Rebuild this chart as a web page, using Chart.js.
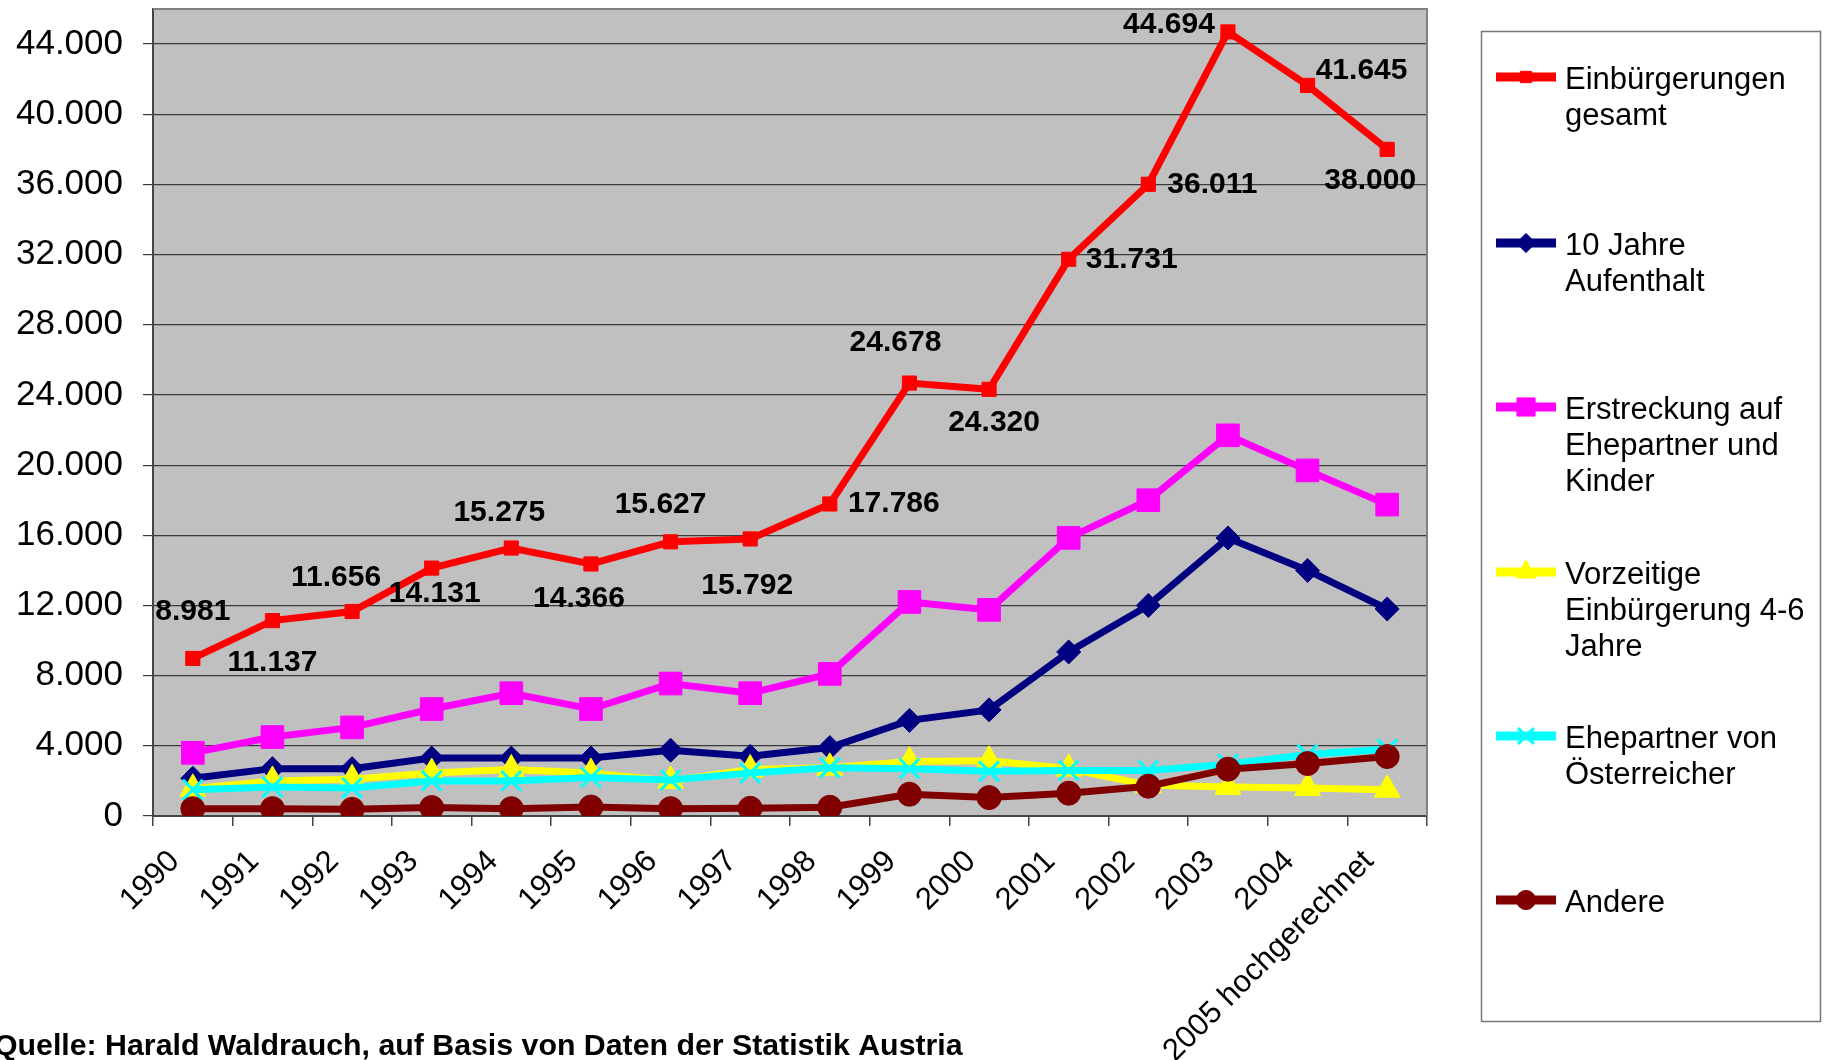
<!DOCTYPE html>
<html>
<head>
<meta charset="utf-8">
<script src="https://cdn.jsdelivr.net/npm/chart.js@4.4.1/dist/chart.umd.min.js"></script>
<style>
  html, body { margin: 0; padding: 0; background: #fff; }
  #wrap { position: relative; width: 1827px; height: 1060px; overflow: hidden; }
</style>
</head>
<body>
<div id="wrap"><canvas id="chart" width="1827" height="1060"></canvas></div>
<script>
const years = ['1990', '1991', '1992', '1993', '1994', '1995', '1996', '1997', '1998',
    '1999', '2000', '2001', '2002', '2003', '2004', '2005 hochgerechnet'];
const yTicks = [0, 4000, 8000, 12000, 16000, 20000, 24000, 28000, 32000, 36000, 40000, 44000];

const total = [8981, 11137, 11656, 14131, 15275, 14366, 15627, 15792, 17786,
    24678, 24320, 31731, 36011, 44694, 41645, 38000];
const tenYears = [2150, 2700, 2700, 3300, 3300, 3300, 3750, 3400, 3900,
    5450, 6050, 9350, 12000, 15850, 14000, 11800];
const spouseChildren = [3600, 4500, 5050, 6100, 7000, 6100, 7550, 7000, 8100,
    12200, 11750, 15850, 18000, 21700, 19700, 17750];
const early = [1550, 2000, 2100, 2450, 2650, 2450, 2000, 2650, 2750,
    3100, 3150, 2700, 1750, 1650, 1600, 1500];
const spouseAustrian = [1500, 1650, 1600, 2000, 2000, 2200, 2050, 2450, 2750,
    2700, 2550, 2600, 2600, 2950, 3500, 3800];
const others = [420, 420, 380, 480, 420, 510, 420, 440, 500,
    1240, 1050, 1300, 1700, 2670, 2990, 3390];

const FONT = "'Liberation Sans', Arial, sans-serif";

// where each value label of the red line sits, relative to its point
const totalLabelShift = [[0, -47], [0, 42], [-16, -34], [3, 26], [-12, -35], [-12, 35],
    [-10, -37], [-3, 47], [64, 0], [-14, -40], [5, 33], [63, 0], [64, 0], [-59, -7],
    [54, -15], [-17, 31]];

const fmt = v => String(v).replace(/\B(?=(\d{3})+(?!\d))/g, '.');

const series = (label, data, color, pointStyle, radius, order, pointBorderWidth = 1) => ({
    label,
    data,
    borderColor: color,
    backgroundColor: color,
    borderWidth: 7,
    pointStyle,
    pointRadius: radius,
    pointBorderWidth,
    pointBackgroundColor: color,
    pointBorderColor: color,
    tension: 0,
    order
});

const plotFrame = {
    id: 'plotFrame',
    beforeDraw: (chart) => {
        const { ctx, chartArea: a } = chart;
        ctx.save();
        ctx.fillStyle = '#c0c0c0';
        ctx.fillRect(a.left, a.top, a.width, a.height);
        ctx.restore();
    },
    beforeDatasetsDraw: (chart) => {
        const { ctx, chartArea: a } = chart;
        ctx.save();
        ctx.strokeStyle = '#808080';
        ctx.lineWidth = 2;
        ctx.beginPath();
        ctx.moveTo(a.left, a.top);
        ctx.lineTo(a.right, a.top);
        ctx.lineTo(a.right, a.bottom);
        ctx.stroke();
        ctx.restore();
    }
};

const totalLabels = {
    id: 'totalLabels',
    afterDatasetsDraw: (chart) => {
        const { ctx } = chart;
        const meta = chart.getDatasetMeta(0);
        ctx.save();
        ctx.font = `bold 30px ${FONT}`;
        ctx.fillStyle = '#000';
        ctx.textAlign = 'center';
        ctx.textBaseline = 'middle';
        meta.data.forEach((pt, i) => {
            const [dx, dy] = totalLabelShift[i];
            ctx.fillText(fmt(total[i]), pt.x + dx, pt.y + dy);
        });
        ctx.restore();
    }
};

const sideLegend = {
    id: 'sideLegend',
    afterDraw: (chart) => {
        const { ctx } = chart;
        ctx.save();
        ctx.strokeStyle = '#777';
        ctx.lineWidth = 1.5;
        ctx.strokeRect(1481.5, 31.5, 339, 990);

        const rows = [77, 243, 407, 572, 736, 900];
        chart.data.datasets.forEach((ds, i) => {
            const y = rows[i];
            ctx.strokeStyle = ds.borderColor;
            ctx.fillStyle = ds.borderColor;
            ctx.lineWidth = 9;
            ctx.beginPath();
            ctx.moveTo(1496, y);
            ctx.lineTo(1556, y);
            ctx.stroke();
            ctx.lineWidth = ds.pointBorderWidth;
            Chart.helpers.drawPoint(ctx, {
                pointStyle: ds.pointStyle,
                radius: ds.pointRadius * 0.8,
                borderWidth: ds.pointBorderWidth,
                rotation: 0
            }, 1526, y);

            ctx.fillStyle = '#000';
            ctx.font = `31px ${FONT}`;
            ctx.textAlign = 'left';
            ctx.textBaseline = 'middle';
            ds.label.split('\n').forEach((line, k) => {
                ctx.fillText(line, 1565, y + 3 + k * 36);
            });
        });

        ctx.font = `bold 30.3px ${FONT}`;
        ctx.textBaseline = 'alphabetic';
        ctx.fillText('Quelle: Harald Waldrauch, auf Basis von Daten der Statistik Austria', -6, 1055);
        ctx.restore();
    }
};

new Chart(document.getElementById('chart'), {
    type: 'line',
    data: {
        labels: years,
        datasets: [
            series('Einbürgerungen\ngesamt', total, '#ff0000', 'rect', 10, 5),
            series('10 Jahre\nAufenthalt', tenYears, '#000080', 'rectRot', 12, 4),
            series('Erstreckung auf\nEhepartner und\nKinder', spouseChildren, '#ff00ff', 'rect', 16, 3),
            series('Vorzeitige\nEinbürgerung 4-6\nJahre', early, '#ffff00', 'triangle', 15, 2),
            series('Ehepartner von\nÖsterreicher', spouseAustrian, '#00ffff', 'crossRot', 14, 1, 3),
            series('Andere', others, '#800000', 'circle', 12, 0)
        ]
    },
    options: {
        responsive: false,
        animation: false,
        layout: { autoPadding: false, padding: { top: 9, right: 400, left: 0, bottom: 0 } },
        plugins: {
            legend: { display: false },
            tooltip: { enabled: false }
        },
        scales: {
            x: {
                offset: true,
                grid: {
                    offset: true,
                    drawOnChartArea: false,
                    drawTicks: true,
                    tickLength: 10,
                    color: '#444',
                    lineWidth: 1.5
                },
                border: { display: true, color: '#444', width: 2 },
                ticks: {
                    autoSkip: false,
                    minRotation: 45,
                    maxRotation: 45,
                    padding: -1,
                    color: '#000',
                    font: { family: FONT, size: 31 },
                    // trailing spaces pull the rotated labels down-left like the original
                    callback: function (v) { return this.getLabelForValue(v) + '   '; }
                },
                afterFit: (s) => {
                    s.height = 244;
                    s.paddingLeft = 0;
                    s.paddingRight = 0;
                }
            },
            y: {
                min: 0,
                max: 46000,
                afterBuildTicks: (s) => {
                    s.ticks = yTicks.map(v => ({ value: v }));
                },
                grid: {
                    color: '#3a3a3a',
                    lineWidth: 1.2,
                    tickLength: 10
                },
                border: { display: true, color: '#444', width: 2 },
                ticks: {
                    padding: 20,
                    color: '#000',
                    font: { family: FONT, size: 35 },
                    callback: v => fmt(v)
                },
                afterFit: (s) => {
                    s.width = 153;
                    s.paddingTop = 0;
                    s.paddingBottom = 0;
                }
            }
        }
    },
    plugins: [plotFrame, totalLabels, sideLegend]
});
</script>
</body>
</html>
